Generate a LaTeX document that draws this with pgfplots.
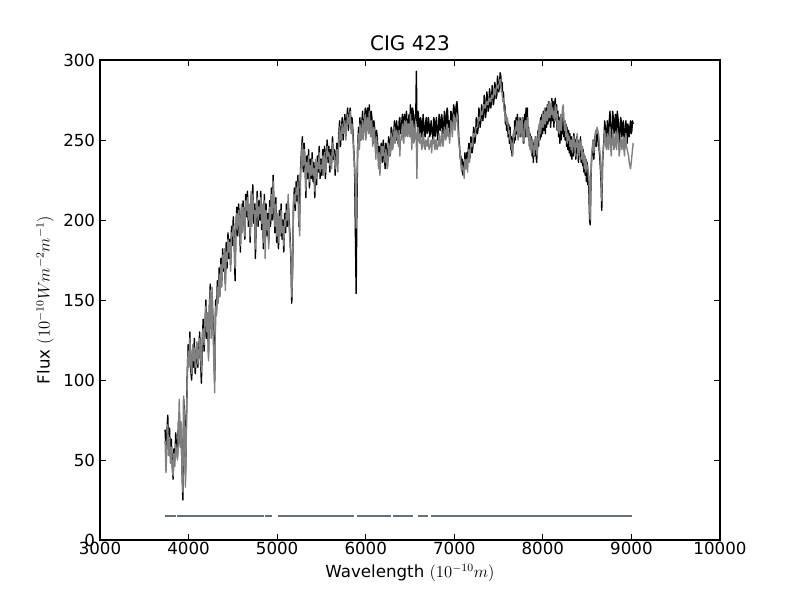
\documentclass[border=0pt]{standalone}
\usepackage{fontspec}
\setmainfont{DejaVu Sans}
\usepackage{pgfplots}
\pgfplotsset{compat=1.18}
\usepackage{pgfplotstable}
\definecolor{maskc}{RGB}{100,114,124}
\pgfplotstableread{
x b g
3735 69 62
3745 55 42
3755 66 58
3765 78 72
3775 58 53
3785 70 64
3795 52 48
3805 63 58
3815 48 45
3825 38 40
3835 57 54
3845 50 46
3855 67 60
3865 56 54
3875 52 50
3885 73 66
3895 80 88
3905 60 58
3915 70 74
3925 48 45
3935 25 30
3945 88 90
3955 78 70
3965 40 33
3975 72 68
3985 104 100
3995 122 118
4005 110 108
4015 130 126
4025 106 110
4035 100 104
4045 118 122
4055 108 112
4065 126 120
4075 104 108
4085 112 116
4095 122 124
4105 108 110
4115 118 114
4125 130 126
4135 112 118
4145 98 105
4155 124 128
4165 138 132
4175 118 122
4185 132 136
4195 150 146
4205 126 130
4215 140 142
4225 116 112
4235 146 142
4245 160 156
4255 132 126
4265 154 158
4275 138 134
4285 120 112
4295 100 92
4305 150 146
4315 142 140
4325 162 158
4335 150 148
4345 170 166
4355 156 152
4365 176 172
4375 162 158
4385 182 178
4395 168 170
4405 178 182
4415 160 156
4425 186 180
4435 170 174
4445 192 188
4455 176 180
4465 188 186
4475 172 168
4485 196 192
4495 184 190
4505 202 196
4515 188 184
4525 162 170
4535 196 200
4545 208 204
4555 190 194
4565 210 206
4575 198 200
4585 180 184
4595 206 210
4605 196 192
4615 212 208
4625 200 204
4635 188 190
4645 216 212
4655 202 206
4665 218 214
4675 196 200
4685 208 210
4695 186 190
4705 214 218
4715 200 196
4725 222 216
4735 198 204
4745 210 206
4755 176 182
4765 206 210
4775 218 214
4785 196 200
4795 212 208
4805 200 204
4815 218 214
4825 194 198
4835 208 210
4845 182 186
4855 216 212
4865 198 176
4875 210 206
4885 190 194
4895 204 200
4905 186 182
4915 212 208
4925 196 200
4935 220 216
4945 200 204
4955 228 224
4965 206 210
4975 192 196
4985 214 210
4995 186 190
5005 200 204
5015 182 186
5025 206 202
5035 194 190
5045 210 206
5055 188 192
5065 200 196
5075 180 184
5085 204 200
5095 192 196
5105 210 206
5115 196 200
5125 212 216
5135 200 196
5145 190 186
5155 176 180
5165 148 152
5175 172 168
5185 210 214
5195 220 216
5205 206 210
5215 224 220
5225 212 216
5235 228 224
5245 196 200
5255 216 190
5265 232 228
5275 244 240
5285 252 248
5295 230 234
5305 248 244
5315 236 238
5325 214 218
5335 240 236
5345 226 230
5355 244 240
5365 220 224
5375 238 234
5385 226 228
5395 242 238
5405 224 228
5415 236 232
5425 214 218
5435 234 238
5445 222 226
5455 240 236
5465 230 232
5475 246 242
5485 226 230
5495 238 234
5505 228 232
5515 244 240
5525 232 228
5535 246 242
5545 226 230
5555 240 236
5565 250 246
5575 236 240
5585 246 242
5595 230 234
5605 244 240
5615 236 232
5625 252 248
5635 238 242
5645 244 240
5655 228 232
5665 240 236
5675 248 244
5685 236 230
5695 252 248
5705 262 258
5715 246 250
5725 256 252
5735 264 260
5745 250 254
5755 258 256
5765 266 262
5775 254 250
5785 262 258
5795 270 266
5805 256 260
5815 266 262
5825 270 268
5835 258 254
5845 264 260
5855 256 252
5865 244 240
5875 230 236
5885 185 215
5892 154 195
5900 205 225
5910 248 246
5920 258 254
5928 246 244
5935 264 260
5943 250 252
5950 254 250
5958 262 258
5965 268 262
5972 252 250
5980 258 256
5988 264 262
5995 270 266
6002 252 250
6010 260 256
6018 270 264
6025 266 262
6032 256 254
6040 272 268
6048 262 260
6055 256 252
6062 268 262
6070 264 260
6078 252 246
6085 248 250
6092 262 258
6100 258 254
6108 250 244
6115 244 238
6122 256 252
6130 252 246
6138 244 240
6145 238 232
6152 246 242
6160 230 228
6168 240 236
6175 248 244
6182 242 246
6190 236 240
6198 250 246
6205 246 242
6212 238 240
6220 232 236
6228 248 244
6235 244 238
6242 234 232
6250 238 234
6258 252 248
6265 250 246
6272 240 240
6280 242 244
6288 258 254
6295 256 252
6302 246 244
6310 248 246
6318 256 254
6325 262 258
6332 250 248
6340 250 252
6348 262 256
6355 258 254
6362 248 250
6370 252 246
6378 262 256
6385 264 240
6392 254 250
6400 256 250
6408 262 256
6415 266 260
6422 256 250
6430 254 248
6438 266 262
6445 262 256
6452 256 252
6460 268 262
6468 258 256
6475 256 252
6482 262 260
6490 266 260
6498 256 252
6505 272 266
6512 262 258
6520 262 244
6528 270 262
6535 268 258
6542 254 248
6550 258 250
6558 266 260
6565 264 256
6572 293 248
6578 262 226
6585 258 252
6590 268 258
6595 266 256
6602 256 250
6610 254 248
6618 264 254
6625 262 250
6632 252 244
6640 256 246
6648 266 254
6655 260 252
6662 254 246
6670 252 244
6678 262 250
6685 264 248
6692 254 246
6700 256 250
6708 264 252
6715 260 244
6722 252 246
6730 254 246
6738 262 250
6745 258 242
6752 254 250
6760 250 248
6768 264 252
6775 262 246
6782 252 244
6790 256 250
6798 264 250
6805 258 244
6812 250 246
6820 252 246
6828 266 254
6835 264 250
6842 256 246
6850 258 248
6858 266 256
6865 262 252
6872 254 246
6880 256 250
6888 268 258
6895 266 256
6902 256 250
6910 260 252
6918 270 260
6925 268 258
6932 258 252
6940 262 254
6948 252 248
6955 258 256
6962 268 262
6970 266 260
6978 256 252
6985 262 258
6992 272 266
7000 270 264
7008 260 256
7015 264 260
7022 272 264
7030 274 266
7038 268 262
7045 260 252
7052 250 248
7060 246 244
7068 238 240
7075 240 236
7082 232 230
7090 238 234
7098 228 232
7105 236 232
7112 230 226
7120 242 238
7128 236 232
7135 232 236
7142 242 238
7150 236 230
7158 244 240
7165 248 244
7172 238 236
7180 240 242
7188 252 248
7195 250 246
7202 242 246
7210 246 250
7218 258 254
7225 256 252
7232 248 252
7240 252 256
7248 264 258
7255 262 258
7262 254 258
7270 258 262
7278 270 264
7285 266 262
7292 258 264
7300 262 268
7308 272 266
7315 270 266
7322 262 268
7330 266 272
7338 278 272
7345 274 270
7352 264 270
7360 268 274
7368 280 274
7375 276 272
7382 268 272
7390 270 276
7398 282 276
7405 278 274
7412 270 274
7420 274 278
7428 284 278
7435 280 276
7442 272 278
7450 276 282
7458 286 280
7465 282 278
7472 276 282
7480 278 284
7488 290 284
7495 286 282
7502 280 284
7510 284 286
7518 292 288
7525 290 286
7532 282 280
7540 286 280
7548 276 274
7555 280 276
7562 270 268
7570 272 268
7578 260 262
7585 262 266
7592 256 260
7600 262 264
7608 252 258
7615 260 254
7622 248 256
7630 258 250
7638 244 250
7645 252 244
7652 240 248
7660 246 240
7668 254 250
7675 248 256
7682 262 252
7690 250 258
7698 264 256
7705 254 262
7712 266 258
7720 252 250
7728 262 264
7735 256 252
7742 264 260
7750 252 262
7758 262 252
7765 256 264
7772 264 256
7780 248 254
7788 258 248
7795 266 260
7802 252 262
7810 270 262
7818 256 252
7825 270 264
7832 252 258
7840 258 250
7848 246 256
7855 254 244
7862 244 252
7870 252 242
7878 240 250
7885 250 246
7892 236 244
7900 248 240
7908 240 250
7915 252 244
7922 242 252
7930 236 242
7938 248 240
7945 256 252
7952 246 258
7960 260 250
7968 250 262
7975 264 254
7982 252 262
7990 266 258
7998 254 266
8005 268 258
8012 256 262
8020 266 270
8028 254 260
8035 270 264
8042 258 268
8050 272 262
8058 260 272
8065 274 264
8072 262 274
8080 272 264
8088 258 266
8095 268 274
8102 276 266
8110 262 270
8118 274 264
8125 258 268
8132 270 262
8140 276 272
8148 262 270
8155 272 262
8162 256 266
8170 268 256
8178 252 262
8185 264 254
8192 248 258
8200 260 266
8208 250 256
8215 266 262
8222 254 270
8230 268 272
8238 252 262
8245 262 256
8252 250 262
8260 260 252
8268 246 258
8275 258 248
8282 244 254
8290 256 250
8298 242 252
8305 254 246
8312 240 250
8320 252 244
8328 238 250
8335 250 242
8342 240 252
8350 254 246
8358 242 250
8365 250 240
8372 238 248
8380 252 246
8388 242 254
8395 250 242
8402 236 248
8410 248 240
8418 240 250
8425 252 244
8432 236 248
8440 246 238
8448 234 246
8455 244 236
8462 230 242
8470 240 232
8478 228 240
8485 238 230
8492 224 236
8500 236 232
8508 222 234
8515 230 226
8522 212 224
8528 200 210
8535 197 200
8540 214 216
8545 230 232
8552 240 242
8560 244 246
8568 250 250
8575 238 242
8582 244 246
8590 252 250
8598 256 256
8605 246 254
8612 250 258
8620 254 256
8628 252 254
8635 244 248
8642 240 244
8650 232 238
8658 222 228
8665 206 212
8670 222 228
8675 236 240
8682 244 244
8690 250 248
8698 262 256
8705 258 252
8712 250 246
8720 248 244
8728 262 254
8735 256 250
8742 250 244
8750 262 254
8758 268 258
8765 252 246
8772 246 240
8780 258 248
8788 268 256
8795 264 252
8802 254 244
8810 256 246
8818 266 254
8825 262 250
8832 252 244
8840 268 256
8848 264 254
8855 258 248
8862 248 240
8870 254 244
8878 264 252
8885 262 250
8892 252 244
8900 256 248
8908 262 252
8915 250 244
8922 244 240
8930 258 252
8938 262 254
8945 254 246
8952 248 244
8960 260 242
8968 256 240
8975 252 236
8982 258 234
8990 262 232
8998 254 236
9005 256 240
9012 262 244
9020 260 248
}\spec
\begin{document}
\begin{tikzpicture}
\useasboundingbox (0,0) rectangle (576pt,432pt);
\begin{axis}[
  at={(72pt,43.2pt)}, anchor=south west,
  scale only axis, width=446.4pt, height=345.6pt,
  xmin=3000, xmax=10000, ymin=0, ymax=300,
  xtick={3000,4000,...,10000}, ytick={0,50,...,300},
  scaled ticks=false,
  minor tick num=0,
  tick align=inside, tick pos=both,
  major tick length=4pt,
  tick style={black, line width=0.6pt},
  axis line style={black, line width=0.8pt},
  /pgf/number format/assume math mode=true,
  /pgf/number format/1000 sep={},
  tick label style={font=\fontsize{12}{14}\selectfont},
  xticklabel style={yshift=2pt},
  label style={font=\fontsize{12}{14}\selectfont},
  title style={font=\fontsize{14.4}{17}\selectfont, yshift=-3pt},
  title={CIG 423},
  xlabel={Wavelength $(10^{-10}m)$},
  ylabel={Flux $(10^{-10}Wm^{-2}m^{-1})$},
  unbounded coords=jump,
  clip=true,
]
\addplot[black, line width=1pt, line join=round] table[x=x, y=b] {\spec};
\addplot[gray, line width=1pt, line join=round] table[x=x, y=g] {\spec};
\addplot[maskc, line width=1.5pt] coordinates {
(3734,15) (3858,15) (3865,nan)
(3873,15) (4855,15) (4860,nan)
(4866,15) (4939,15) (4970,nan)
(5010,15) (5868,15) (5880,nan)
(5902,15) (6285,15) (6295,nan)
(6308,15) (6534,15) (6560,nan)
(6590,15) (6703,15) (6720,nan)
(6737,15) (9003,15)
};
\end{axis}
\end{tikzpicture}
\end{document}
